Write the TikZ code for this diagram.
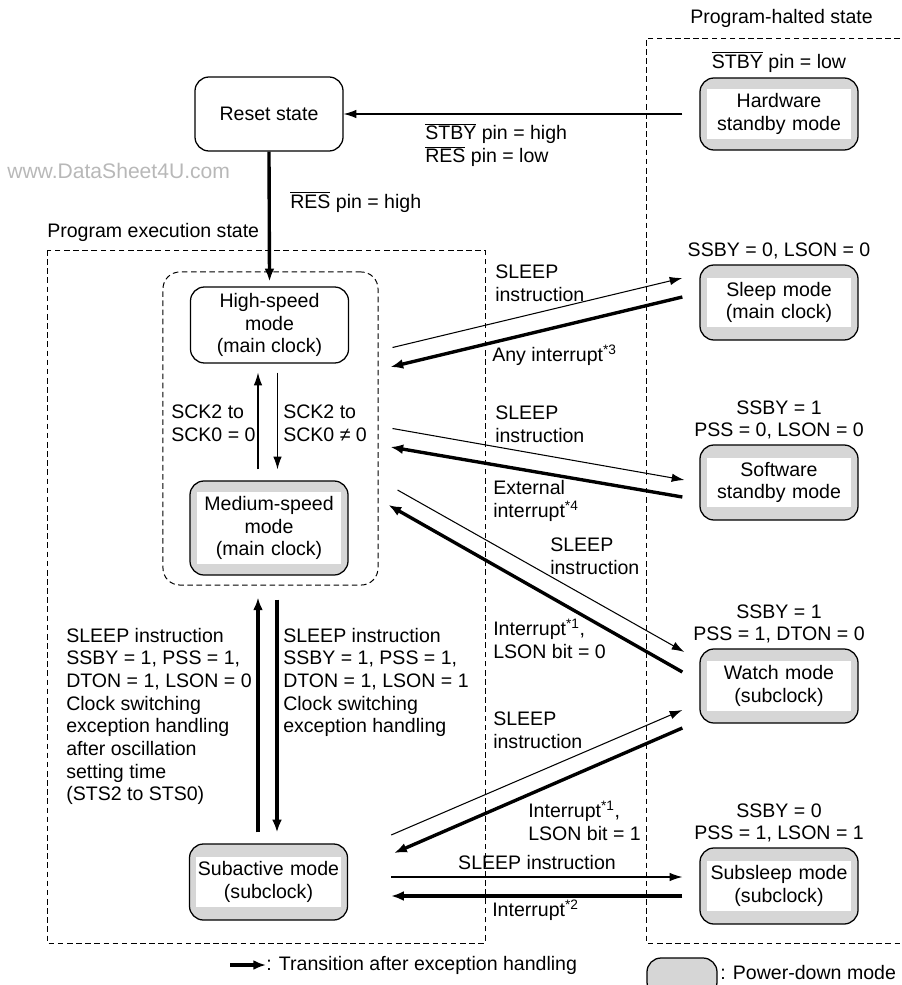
\documentclass[tikz,border=0pt]{standalone}
\usepackage{fontspec}
\setmainfont{Liberation Sans}
\usetikzlibrary{positioning}
\usetikzlibrary{calc}
\usetikzlibrary{arrows.meta}
\definecolor{pdgray}{gray}{0.84}
\newcommand{\ovl}[1]{$\overline{\mbox{#1}}$}

\begin{document}
\begin{tikzpicture}[x=0.025cm, y=-0.025cm,
    font=\fontsize{13.9}{16.1}\selectfont,
    modebox/.style={draw, line width=0.9pt, rounded corners=10pt, align=center,
        minimum width=3.95cm, minimum height=1.9cm},
    pdbox/.style={modebox, fill=pdgray},
    pdinner/.style={fill=white, align=center, text width=3.6cm, inner xsep=0pt, inner ysep=3pt},
    region/.style={draw, line width=0.7pt, dash pattern=on 4pt off 2.5pt},
    trans/.style={line width=0.75pt, -{Latex[length=9pt,width=6pt]}},
    exctrans/.style={line width=2.4pt, -{Latex[length=9pt,width=7pt]}},
    note/.style={align=left, inner sep=0pt}]

    \useasboundingbox (0,0) rectangle (901,985);

    % regions
    \draw[region] (900,38) -- (646,38) -- (646,943) -- (900,943);
    \node[note, anchor=west] (haltlbl) at (690,18) {Program-halted state};
    \draw[region] (47,250) rectangle (485,943);
    \node[note, anchor=west] (execlbl) at (47,232) {Program execution state};
    \node[region, rounded corners=12pt, minimum width=5.375cm, minimum height=7.825cm] (mainclk) at (270.5,428.5) {};

    \node[note, anchor=west, text=black!28, font=\fontsize{15}{18}\selectfont] (wm) at (7,171) {www.DataSheet4U.com};

    % program execution modes
    \node[modebox, minimum width=3.7cm, minimum height=1.85cm] (reset) at (269,114) {Reset state};
    \node[modebox] (high) at (269.5,325) {High-speed\\mode\\(main clock)};
    \node[pdbox, minimum height=2.35cm] (medium) at (269,528) {};
    \node[pdinner] (medium-t) at (medium) {Medium-speed\\mode\\(main clock)};
    \node[pdbox] (subact) at (268.5,882) {};
    \node[pdinner] (subact-t) at (subact) {Subactive mode\\(subclock)};

    % program-halted modes
    \node[pdbox, minimum height=1.8cm, label={above:\ovl{STBY} pin = low}] (hw) at (779,114) {};
    \node[pdinner] (hw-t) at (hw) {Hardware\\standby mode};
    \node[pdbox, minimum height=1.875cm, label={above:SSBY = 0, LSON = 0}] (sleep) at (779,302.5) {};
    \node[pdinner] (sleep-t) at (sleep) {Sleep mode\\(main clock)};
    \node[pdbox, minimum height=1.875cm, label={[align=center]above:SSBY = 1\\PSS = 0, LSON = 0}] (sw) at (779,482.5) {};
    \node[pdinner] (sw-t) at (sw) {Software\\standby mode};
    \node[pdbox, minimum height=1.85cm, label={[align=center]above:SSBY = 1\\PSS = 1, DTON = 0}] (watch) at (779,686) {};
    \node[pdinner] (watch-t) at (watch) {Watch mode\\(subclock)};
    \node[pdbox, label={[align=center]above:SSBY = 0\\PSS = 1, LSON = 1}] (subsleep) at (779,886) {};
    \node[pdinner] (subsleep-t) at (subsleep) {Subsleep mode\\(subclock)};

    % transitions
    \draw[trans] ($(hw.west)+(-17,0)$) -- (reset.east);
    \draw[exctrans] (reset.south) -- ($(high.north)+(0,-5)$);
    \draw[trans] ($(high.south)+(8,9)$) -- ($(medium.north)+(8.5,-11)$);
    \draw[trans] ($(medium.north)+(-11,-11)$) -- ($(high.south)+(-11.5,9)$);
    \draw[exctrans] ($(subact.north)+(-10.5,-11)$) -- ($(mainclk.south)+(-12.5,12)$);
    \draw[exctrans] ($(mainclk.south)+(6.5,14)$) -- ($(subact.north)+(8.5,-11)$);

    \draw[trans] ($(mainclk.east)+(14,-81)$) -- ($(sleep.west)+(-17,-24.5)$);
    \draw[exctrans] ($(sleep.west)+(-17,-5.5)$) -- ($(mainclk.east)+(12,-61.5)$);
    \draw[trans] ($(mainclk.east)+(14,0)$) -- ($(sw.west)+(-15,-2.5)$);
    \draw[exctrans] ($(sw.west)+(-17,14.5)$) -- ($(mainclk.east)+(12,18.5)$);
    \draw[trans] ($(mainclk.east)+(19,61.5)$) -- ($(watch.west)+(-15,-34)$);
    \draw[exctrans] ($(watch.west)+(-17,-14)$) -- ($(mainclk.east)+(10,76.5)$);
    \draw[trans] ($(subact.east)+(43,-47)$) -- ($(watch.west)+(-17,24)$);
    \draw[exctrans] ($(watch.west)+(-17,42)$) -- ($(subact.east)+(46,-29)$);
    \draw[trans] ($(subact.east)+(43,-5)$) -- ($(subsleep.west)+(-17,-9)$);
    \draw[exctrans] ($(subsleep.west)+(-17,10)$) -- ($(subact.east)+(43,14)$);

    % transition labels
    \node[note, anchor=west] (lbl-hwrst) at (425,145) {\ovl{STBY} pin = high\\\ovl{RES} pin = low};
    \node[note, anchor=west] (lbl-rst) at (290,202) {\ovl{RES} pin = high};
    \node[note, anchor=west] (lbl-sckup) at (171,423) {SCK2 to\\SCK0 = 0};
    \node[note, anchor=west] (lbl-sckdn) at (283,423) {SCK2 to\\SCK0 ≠ 0};
    \node[note, anchor=west] (lbl-s1) at (495,283) {SLEEP\\instruction};
    \node[note, anchor=west] (lbl-i3) at (492,355) {Any interrupt\textsuperscript{*3}};
    \node[note, anchor=west] (lbl-s2) at (495,424) {SLEEP\\instruction};
    \node[note, anchor=west] (lbl-i4) at (493,501) {External\\interrupt\textsuperscript{*4}};
    \node[note, anchor=west] (lbl-s3) at (550,556) {SLEEP\\instruction};
    \node[note, anchor=west] (lbl-i1a) at (493,639) {Interrupt\textsuperscript{*1},\\LSON bit = 0};
    \node[note, anchor=west] (lbl-s4) at (493,730) {SLEEP\\instruction};
    \node[note, anchor=west] (lbl-i1b) at (528,821) {Interrupt\textsuperscript{*1},\\LSON bit = 1};
    \node[note] (lbl-s5) at (537,863) {SLEEP instruction};
    \node[note, anchor=west] (lbl-i2) at (492,910) {Interrupt\textsuperscript{*2}};
    \node[note, anchor=west] (lbl-up) at (66,716.5) {SLEEP instruction\\SSBY = 1, PSS = 1,\\DTON = 1, LSON = 0\\Clock switching\\exception handling\\after oscillation\\setting time\\(STS2 to STS0)};
    \node[note, anchor=west] (lbl-dn) at (283,682.5) {SLEEP instruction\\SSBY = 1, PSS = 1,\\DTON = 1, LSON = 1\\Clock switching\\exception handling};

    % legend
    \coordinate (leg-a) at (230,965);
    \node[note, anchor=west] (leg-t) at (266,965) {: Transition after exception handling};
    \draw[exctrans] (leg-a) -- (leg-t.west);
    \node[pdbox, minimum width=1.75cm, minimum height=0.95cm] (leg-box) at (682,977) {};
    \node[note, anchor=west] (leg-pd) at (720,973) {: Power-down mode};
\end{tikzpicture}
\end{document}
